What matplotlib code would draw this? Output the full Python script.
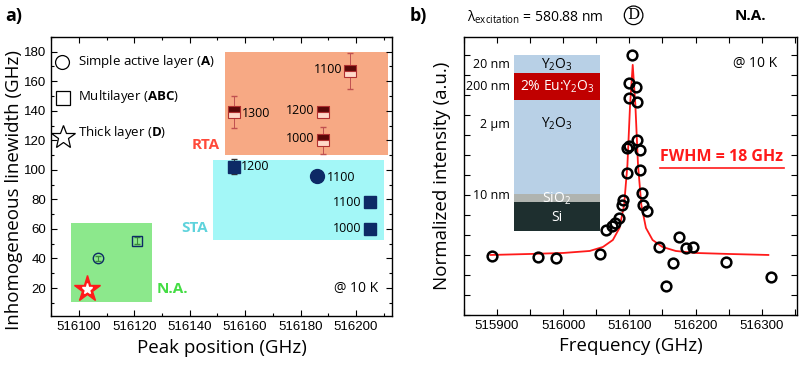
import numpy as np
import matplotlib.pyplot as plt
from matplotlib.patches import Rectangle
from matplotlib.ticker import MultipleLocator, NullFormatter

plt.rcParams['font.family'] = ['Open Sans', 'DejaVu Sans']
plt.rcParams['mathtext.fontset'] = 'custom'
plt.rcParams['mathtext.rm'] = 'Open Sans'
plt.rcParams['mathtext.it'] = 'Open Sans'
plt.rcParams['mathtext.bf'] = 'Open Sans:bold'

# ---- panel a data ----
na_circle = (516107, 40)
na_square = (516121, 52)
na_star = (516103, 19)

rta_x = [516156, 516188, 516188, 516198]
rta_y = [139, 139, 120, 167]
rta_err = [11, 3, 9, 12]
rta_labels = ['1300', '1200', '1000', '1100']

sta_sq_x = [516156, 516205, 516205]
sta_sq_y = [102, 78, 60]
sta_sq_err = [5, 0, 0]
sta_sq_labels = ['1200', '1100', '1000']
sta_circ = (516186, 96)
sta_circ_label = '1100'

# ---- panel b data ----
freq = [515892.5, 515961.9, 515989.5, 516054.9, 516065, 516073.6, 516078.6, 516085,
        516088.7, 516091, 516096.2, 516096.2, 516100, 516100, 516100, 516103.8,
        516110, 516111, 516112, 516116, 516116, 516119, 516121, 516126,
        516145.4, 516155.5, 516166.6, 516175, 516185.7, 516195.8, 516245.7, 516313.6]
inten = [-0.01, -0.02, -0.03, 0.01, 0.25, 0.29, 0.32, 0.37,
         0.50, 0.55, 0.82, 1.07, 1.09, 1.57, 1.72, 2.0,
         1.68, 1.53, 1.15, 1.05, 0.85, 0.62, 0.50, 0.44,
         0.08, -0.31, -0.08, 0.18, 0.07, 0.08, -0.07, -0.22]

fit_x = [515890, 515950, 516000, 516040, 516060, 516075, 516085, 516092, 516097,
         516101, 516105, 516109, 516113, 516118, 516125, 516135, 516150, 516170,
         516200, 516250, 516310]
fit_y = [0.0, 0.01, 0.02, 0.04, 0.08, 0.15, 0.27, 0.5, 0.9,
         1.5, 1.9, 1.5, 0.9, 0.5, 0.27, 0.15, 0.08, 0.04,
         0.02, 0.01, 0.0]

navy = '#0d2a66'
maroon = '#5a0808'

fig = plt.figure(figsize=(8, 3.65), dpi=100)
ax1 = fig.add_axes([0.064, 0.134, 0.426, 0.765])
ax2 = fig.add_axes([0.58, 0.137, 0.416, 0.762])


def style_axes(ax):
    ax.tick_params(which='both', direction='in', top=True, right=True, width=0.8)
    ax.tick_params(which='major', length=4)
    ax.tick_params(which='minor', length=2.5)
    for lab in ax.get_xticklabels() + ax.get_yticklabels():
        lab.set_fontfamily('Liberation Sans')
        lab.set_fontsize(9.5)
    for s in ax.spines.values():
        s.set_linewidth(1.0)


# ================= panel a =================
ax1.add_patch(Rectangle((516152.7, 110), 58.9, 70, fc='#f7a984', ec='none', zorder=0))
ax1.add_patch(Rectangle((516148.5, 52.5), 61.5, 54.3, fc='#a3f7f7', ec='none', zorder=0))
ax1.add_patch(Rectangle((516097, 10.3), 29.4, 54, fc='#8ce88c', ec='none', zorder=0))

# N.A.
ax1.errorbar([na_circle[0]], [na_circle[1]], yerr=1.5, fmt='o', ms=7.5, mfc='none',
             mec=navy, mew=1, ecolor='#3a8a3a', capsize=2, elinewidth=0.8)
ax1.errorbar([na_square[0]], [na_square[1]], yerr=2.5, fmt='s', ms=7.5, mfc='none',
             mec=navy, mew=1, ecolor='#3a8a3a', capsize=2, elinewidth=0.8)
ax1.plot([na_star[0]], [na_star[1]], marker='*', ms=20, color='#ff1a1a', mec='#ff1a1a')
ax1.plot([na_star[0]], [na_star[1]], marker='*', ms=8, color='white', mec='white')

# RTA
ax1.errorbar(rta_x, rta_y, yerr=rta_err, fmt='none', ecolor='#c05050',
             capsize=2.5, elinewidth=0.7, zorder=2)
ax1.plot(rta_x, rta_y, 's', ms=8, fillstyle='top', mfc=maroon, mfcalt='#ffd8c8',
         mec='#b03030', mew=0.8, ls='none', zorder=3)
for x, y, lab in zip(rta_x, rta_y, rta_labels):
    if lab == '1300':
        ax1.text(x + 3, y - 1, lab, ha='left', va='center', fontsize=9)
    else:
        ax1.text(x - 3, y + 1, lab, ha='right', va='center', fontsize=9)

# STA
ax1.errorbar(sta_sq_x, sta_sq_y, yerr=sta_sq_err, fmt='none', ecolor='#333333',
             capsize=2, elinewidth=0.7, zorder=2)
ax1.plot(sta_sq_x, sta_sq_y, 's', ms=8, color=navy, ls='none', zorder=3)
ax1.plot([sta_circ[0]], [sta_circ[1]], 'o', ms=10, color=navy, zorder=3)
ax1.text(sta_circ[0] + 3.5, sta_circ[1] - 1, sta_circ_label, ha='left', va='center', fontsize=9)
for x, y, lab in zip(sta_sq_x, sta_sq_y, sta_sq_labels):
    if lab == '1200':
        ax1.text(x + 2.5, y, lab, ha='left', va='center', fontsize=9)
    else:
        ax1.text(x - 3, y, lab, ha='right', va='center', fontsize=9)

ax1.text(516151, 117, 'RTA', color='#ff4a3a', fontweight='bold', fontsize=11,
         ha='right', va='center')
ax1.text(516146.5, 60.5, 'STA', color='#5fd3dc', fontweight='bold', fontsize=11,
         ha='right', va='center')
ax1.text(516128, 19.5, 'N.A.', color='#44dd44', fontweight='bold', fontsize=11,
         ha='left', va='center')
ax1.text(516208, 20, '@ 10 K', fontsize=10, ha='right', va='center')

# legend-like keys
ax1.plot([0.033], [0.91], 'o', ms=10, mfc='none', mec='black', mew=0.9, transform=ax1.transAxes)
ax1.plot([0.035], [0.781], 's', ms=10, mfc='none', mec='black', mew=0.9, transform=ax1.transAxes)
ax1.plot([0.035], [0.642], '*', ms=18, mfc='none', mec='black', mew=0.9, transform=ax1.transAxes)
ax1.text(0.078, 0.91, 'Simple active layer ($\\mathbf{A}$)', transform=ax1.transAxes,
         va='center', fontsize=9.5)
ax1.text(0.078, 0.785, 'Multilayer ($\\mathbf{ABC}$)', transform=ax1.transAxes,
         va='center', fontsize=9.5)
ax1.text(0.078, 0.658, 'Thick layer ($\\mathbf{D}$)', transform=ax1.transAxes,
         va='center', fontsize=9.5)

ax1.set_xlim(516090, 516213)
ax1.set_ylim(1, 190)
ax1.xaxis.set_major_locator(MultipleLocator(20))
ax1.xaxis.set_minor_locator(MultipleLocator(10))
ax1.yaxis.set_major_locator(MultipleLocator(20))
ax1.yaxis.set_minor_locator(MultipleLocator(10))
ax1.set_yticks([20, 40, 60, 80, 100, 120, 140, 160, 180])
ax1.set_xticks([516100, 516120, 516140, 516160, 516180, 516200])
ax1.ticklabel_format(useOffset=False, style='plain', axis='x')
ax1.set_xlabel('Peak position (GHz)', fontsize=13.5)
ax1.set_ylabel('Inhomogeneous linewidth (GHz)', fontsize=13.5)
ax1.yaxis.set_label_coords(-0.083, 0.45)
style_axes(ax1)
fig.text(0.006, 0.955, 'a)', fontsize=13, fontweight='bold', va='center')

# ================= panel b =================
# layer stack sketch (axes fraction)
x0, x1 = 0.150, 0.408
layers = [(0.870, 0.935, '#b8d0e6'), (0.773, 0.870, '#c00000'),
          (0.435, 0.773, '#b8d0e6'), (0.408, 0.435, '#b0b4b0'), (0.303, 0.408, '#1e2f2f')]
for yb, yt, c in layers:
    ax2.add_patch(Rectangle((x0, yb), x1 - x0, yt - yb, transform=ax2.transAxes,
                            fc=c, ec='none', zorder=0))
xc = (x0 + x1) / 2
ax2.text(xc, 0.901, 'Y$_2$O$_3$', transform=ax2.transAxes, ha='center', va='center', fontsize=10)
ax2.text(xc, 0.821, '2% Eu:Y$_2$O$_3$', transform=ax2.transAxes, ha='center', va='center',
         fontsize=10, color='white')
ax2.text(xc, 0.686, 'Y$_2$O$_3$', transform=ax2.transAxes, ha='center', va='center', fontsize=10)
ax2.text(xc, 0.418, 'SiO$_2$', transform=ax2.transAxes, ha='center', va='center',
         fontsize=10, color='white')
ax2.text(xc, 0.352, 'Si', transform=ax2.transAxes, ha='center', va='center',
         fontsize=10, color='white')
ax2.text(x0 - 0.012, 0.901, '20 nm', transform=ax2.transAxes, ha='right', va='center', fontsize=9)
ax2.text(x0 - 0.012, 0.821, '200 nm', transform=ax2.transAxes, ha='right', va='center', fontsize=9)
ax2.text(x0 - 0.012, 0.686, '2 μm', transform=ax2.transAxes, ha='right', va='center', fontsize=9)
ax2.text(x0 - 0.012, 0.428, '10 nm', transform=ax2.transAxes, ha='right', va='center', fontsize=9)

ax2.plot(fit_x, fit_y, color='#ff1a1a', lw=1.3, zorder=2)
ax2.plot(freq, inten, 'o', ms=7, mfc='none', mec='black', mew=1.8, ls='none', zorder=3)

ax2.text(0.94, 0.905, '@ 10 K', transform=ax2.transAxes, ha='right', va='center', fontsize=10)
ax2.text(0.589, 0.568, 'FWHM = 18 GHz', transform=ax2.transAxes, ha='left', va='center',
         fontsize=11.5, fontweight='bold', color='#ff1a1a')
ax2.plot([0.589, 0.962], [0.528, 0.528], transform=ax2.transAxes, color='#ff1a1a', lw=1.2)

ax2.set_xlim(515850, 516353)
ax2.set_ylim(-0.6, 2.18)
ax2.xaxis.set_major_locator(MultipleLocator(100))
ax2.xaxis.set_minor_locator(MultipleLocator(50))
ax2.yaxis.set_major_locator(MultipleLocator(0.2))
ax2.yaxis.set_major_formatter(NullFormatter())
ax2.ticklabel_format(useOffset=False, style='plain', axis='x')
ax2.set_xlabel('Frequency (GHz)', fontsize=13.5)
ax2.set_ylabel('Normalized intensity (a.u.)', fontsize=13.5, labelpad=6)
style_axes(ax2)
ax2.tick_params(which='minor', length=4)

fig.text(0.512, 0.955, 'b)', fontsize=13, fontweight='bold', va='center')
fig.text(0.584, 0.952, '$\\lambda_{\\mathrm{excitation}}$ = 580.88 nm', fontsize=10, va='center')
fig.text(0.792, 0.958, 'D', family='DejaVu Serif', fontsize=11, ha='center', va='center',
         bbox=dict(boxstyle='circle,pad=0.15', fc='none', ec='black', lw=0.9))
fig.text(0.918, 0.955, 'N.A.', fontsize=11, fontweight='bold', va='center')

fig.savefig('out.png', dpi=100)
